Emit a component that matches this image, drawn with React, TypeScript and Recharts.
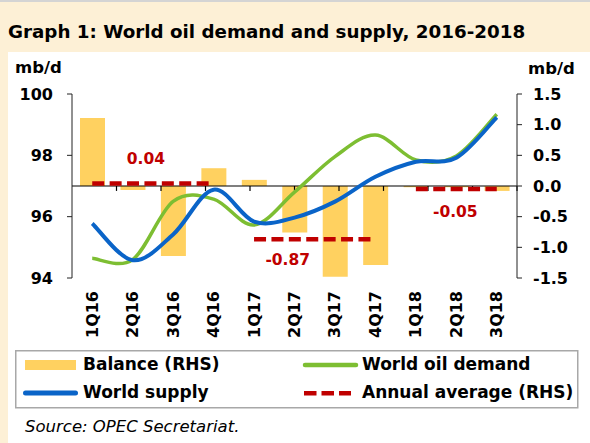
import React from "react";
import {
  ComposedChart,
  Bar,
  Line,
  XAxis,
  YAxis,
  ReferenceLine,
} from "recharts";

const quarters = ["1Q16", "2Q16", "3Q16", "4Q16", "1Q17", "2Q17", "3Q17", "4Q17", "1Q18", "2Q18", "3Q18"];
const balance = [1.11, -0.065, -1.14, 0.29, 0.1, -0.76, -1.48, -1.29, -0.02, -0.02, -0.08];
const demand = [94.64, 94.6, 96.5, 96.57, 95.73, 96.8, 97.96, 98.66, 97.85, 97.98, 99.34];
const supply = [95.78, 94.58, 95.42, 96.88, 95.84, 95.97, 96.49, 97.3, 97.79, 97.92, 99.24];

const leftTicks = [94, 96, 98, 100];
const rightTicks = [-1.5, -1, -0.5, 0, 0.5, 1, 1.5];

// annual averages of the balance, drawn from first to last quarter of each year
const annualAvg = [0.04, -0.87, -0.05];
const avgText = ["0.04", "-0.87", "-0.05"];
const avgFrom = ["1Q16", "1Q17", "1Q18"];
const avgTo = ["4Q16", "4Q17", "3Q18"];
// category boundaries where the small ticks sit on the zero line
const boundaries = [1, 2, 3, 4, 5, 6, 7, 8, 9, 10];

const data = quarters.map((q, i) => ({
  q,
  balance: balance[i],
  demand: demand[i],
  supply: supply[i],
}));

const FONT = "'DejaVu Sans', sans-serif";
const BAR = "#FFD160";
const GREEN = "#7DBE32";
const BLUE = "#0A64C8";
const RED = "#C00000";

// label offsets (dx, dy from the dashed line) for the average values
const avgLabelOffset = [
  [-7, -20],
  [-27, 26],
  [-1, 28],
];

// Excel-like smoothed line (Catmull-Rom through the points)
const excelSmooth = (context: any) => {
  let pts: number[][] = [];
  return {
    areaStart() {},
    areaEnd() {},
    lineStart() {
      pts = [];
    },
    point(x: number, y: number) {
      pts.push([+x, +y]);
    },
    lineEnd() {
      if (!pts.length) return;
      context.moveTo(pts[0][0], pts[0][1]);
      for (let i = 0; i < pts.length - 1; i++) {
        const p0 = pts[Math.max(i - 1, 0)];
        const p1 = pts[i];
        const p2 = pts[i + 1];
        const p3 = pts[Math.min(i + 2, pts.length - 1)];
        context.bezierCurveTo(
          p1[0] + (p2[0] - p0[0]) / 6,
          p1[1] + (p2[1] - p0[1]) / 6,
          p2[0] - (p3[0] - p1[0]) / 6,
          p2[1] - (p3[1] - p1[1]) / 6,
          p2[0],
          p2[1]
        );
      }
    },
  };
};

const tickStyle = { fontFamily: FONT, fontWeight: 700, fontSize: 16, fill: "#000" };

const QuarterTick = (props: any) => {
  const { x, y, payload } = props;
  return (
    <text
      transform={`translate(${x},${y}) rotate(-90)`}
      textAnchor="end"
      dominantBaseline="central"
      style={tickStyle}
    >
      {payload.value}
    </text>
  );
};

const avgLabel = (i: number) => (props: any) => {
  const vb = props.viewBox;
  if (!vb) return null;
  const [dx, dy] = avgLabelOffset[i];
  return (
    <text
      x={vb.x + vb.width / 2 + dx}
      y={vb.y + dy}
      textAnchor="middle"
      style={{ fontFamily: FONT, fontWeight: 700, fontSize: 15.5, fill: RED }}
    >
      {avgText[i]}
    </text>
  );
};

const bold = { fontFamily: FONT, fontWeight: 700 };

function Frame() {
  return (
    <svg width={590} height={443} style={{ position: "absolute", left: 0, top: 0 }}>
      <rect x={0} y={0} width={590} height={443} fill="#FDF0D6" />
      <rect x={0} y={0} width={590} height={2} fill="#D4D4D4" />
      <rect x={8} y={52} width={582} height={391} fill="#fff" />
      <text x={8} y={38} style={{ ...bold, fontSize: 18.3 }}>
        Graph 1: World oil demand and supply, 2016-2018
      </text>
      <text x={15} y={73} style={{ ...bold, fontSize: 16.5 }}>mb/d</text>
      <text x={528} y={74} style={{ ...bold, fontSize: 16.5 }}>mb/d</text>

      <rect x={15.75} y={350.75} width={562} height={57} fill="none" stroke="#A8A8A8" strokeWidth={1.5} />
      <rect x={25} y={360} width={51} height={10} fill={BAR} />
      <text x={83} y={369.5} style={{ ...bold, fontSize: 17 }}>Balance (RHS)</text>
      <line x1={305} y1={365} x2={356} y2={365} stroke={GREEN} strokeWidth={4.5} strokeLinecap="round" />
      <text x={362} y={369.5} style={{ ...bold, fontSize: 17 }}>World oil demand</text>
      <line x1={25.5} y1={393} x2={75.5} y2={393} stroke={BLUE} strokeWidth={5} strokeLinecap="round" />
      <text x={83} y={398.3} style={{ ...bold, fontSize: 17 }}>World supply</text>
      <line x1={304} y1={393.3} x2={351} y2={393.3} stroke={RED} strokeWidth={4.5} strokeDasharray="12.5 5" />
      <text x={362} y={398.3} style={{ ...bold, fontSize: 17 }}>Annual average (RHS)</text>

      <text x={25} y={432} style={{ fontFamily: FONT, fontStyle: "italic", fontSize: 16.5 }}>
        Source: OPEC Secretariat.
      </text>
    </svg>
  );
}

export default function App() {
  return (
    <div style={{ position: "absolute", left: 0, top: 0, width: 590, height: 443 }}>
      <Frame />
      <div style={{ position: "absolute", left: 0, top: 0 }}>
        <ComposedChart
          width={590}
          height={345}
          data={data}
          margin={{ top: 94, right: 0, bottom: 7, left: 0 }}
        >
          <XAxis
            dataKey="q"
            height={60}
            axisLine={false}
            tickLine={false}
            tickSize={0}
            tickMargin={13}
            interval={0}
            tick={<QuarterTick />}
          />
          <XAxis xAxisId="num" type="number" domain={[0, 11]} hide allowDataOverflow />
          <YAxis
            yAxisId="left"
            domain={[94, 100]}
            ticks={leftTicks}
            interval={0}
            allowDataOverflow
            width={72}
            tickSize={5}
            tickMargin={14}
            axisLine={{ stroke: "#222" }}
            tickLine={{ stroke: "#222" }}
            tick={tickStyle}
          />
          <YAxis
            yAxisId="right"
            orientation="right"
            domain={[-1.5, 1.5]}
            ticks={rightTicks}
            interval={0}
            allowDataOverflow
            width={73}
            tickSize={5}
            tickMargin={11}
            tickFormatter={(v: number) => v.toFixed(1)}
            axisLine={{ stroke: "#222" }}
            tickLine={{ stroke: "#222" }}
            tick={tickStyle}
          />
          <Bar
            dataKey="balance"
            yAxisId="right"
            fill={BAR}
            barSize={25}
            isAnimationActive={false}
          />
          <ReferenceLine y={0} yAxisId="right" stroke="#000" strokeWidth={1.2} />
          {boundaries.map((b) => (
            <ReferenceLine
              key={b}
              xAxisId="num"
              yAxisId="right"
              segment={[
                { x: b, y: 0 },
                { x: b, y: -0.08 },
              ]}
              stroke="#000"
              strokeWidth={1.2}
            />
          ))}
          <Line
            dataKey="demand"
            yAxisId="left"
            type={excelSmooth as any}
            stroke={GREEN}
            strokeWidth={3.5}
            dot={false}
            activeDot={false}
            isAnimationActive={false}
          />
          <Line
            dataKey="supply"
            yAxisId="left"
            type={excelSmooth as any}
            stroke={BLUE}
            strokeWidth={4}
            dot={false}
            activeDot={false}
            isAnimationActive={false}
          />
          {annualAvg.map((v, i) => (
            <ReferenceLine
              key={avgText[i]}
              yAxisId="right"
              segment={[
                { x: avgFrom[i], y: v },
                { x: avgTo[i], y: v },
              ]}
              stroke={RED}
              strokeWidth={4.5}
              strokeDasharray="12 5.4"
              label={avgLabel(i)}
            />
          ))}
        </ComposedChart>
      </div>
    </div>
  );
}
